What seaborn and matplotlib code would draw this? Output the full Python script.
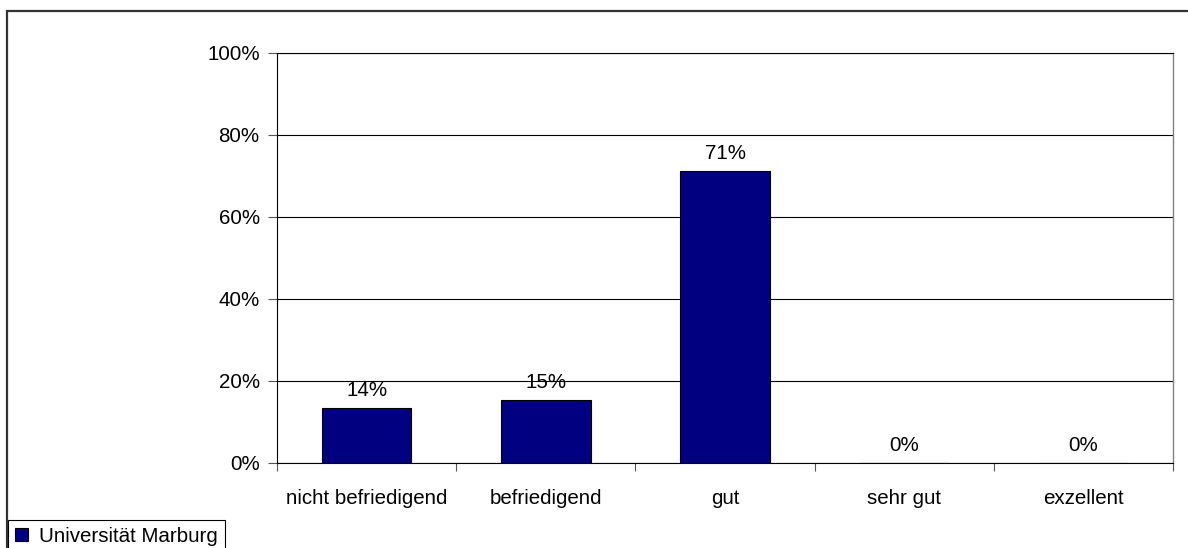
import numpy as np
import pandas as pd
import matplotlib.pyplot as plt
import seaborn as sns
from matplotlib.patches import Rectangle, Patch

# Werte
categories = ['nicht befriedigend', 'befriedigend', 'gut', 'sehr gut', 'exzellent']
values = [0.133, 0.154, 0.712, 0.0, 0.0]
value_labels = ['14%', '15%', '71%', '0%', '0%']
y_ticks = [0, 0.2, 0.4, 0.6, 0.8, 1.0]
y_tick_labels = ['0%', '20%', '40%', '60%', '80%', '100%']
series_name = 'Universität Marburg'

sns.set_style('white')
plt.rcParams['font.family'] = ['Liberation Sans', 'DejaVu Sans']
plt.rcParams['text.color'] = 'black'
plt.rcParams['xtick.color'] = 'black'
plt.rcParams['ytick.color'] = 'black'
fs = 14.8

df = pd.DataFrame({'Kategorie': categories, 'Anteil': values})

fig = plt.figure(figsize=(11.88, 5.48), dpi=100)
ax = fig.add_axes([277 / 1188, 1 - 463 / 548, 896 / 1188, 410 / 548])

sns.barplot(data=df, x='Kategorie', y='Anteil', color='#000080',
            edgecolor='black', linewidth=0.8, width=0.5, saturation=1, ax=ax)

ax.set_xlim(-0.5, len(categories) - 0.5)
ax.set_ylim(0, 1.0)
ax.set_yticks(y_ticks)
ax.set_yticklabels(y_tick_labels, fontsize=fs)
ax.yaxis.grid(True, color='black', linewidth=0.8)
ax.set_axisbelow(True)

ax.set_xticks(range(len(categories)))
ax.set_xticklabels(categories, fontsize=fs)
ax.set_xticks(np.arange(-0.5, len(categories)), minor=True)
ax.tick_params(axis='x', which='major', length=0, pad=19)
ax.tick_params(axis='x', which='minor', length=6, width=0.8, color='#555555', direction='out', bottom=True)
ax.tick_params(axis='y', length=6.5, width=0.8, color='#555555', direction='out', left=True, pad=6)
ax.set_xlabel('')
ax.set_ylabel('')

for side in ['left', 'bottom', 'top']:
    ax.spines[side].set_color('black')
    ax.spines[side].set_linewidth(0.8)
ax.spines['right'].set_color('#808080')
ax.spines['right'].set_linewidth(1.0)

ax.bar_label(ax.containers[0], labels=value_labels, padding=6, fontsize=fs, color='black')

# aeusserer Rahmen
fig.patches.append(Rectangle((7 / 1188, -0.1), 1.2, 1 - 11 / 548 + 0.1,
                             transform=fig.transFigure, fill=False,
                             edgecolor='#333333', linewidth=1.6))

handles = [Patch(facecolor='#000080', edgecolor='black', linewidth=0.8, label=series_name)]
leg = fig.legend(handles=handles, loc='upper left',
                 bbox_to_anchor=(8 / 1188, 1 - 520 / 548), fontsize=fs,
                 frameon=True, fancybox=False, framealpha=1,
                 handlelength=0.6, handleheight=0.6, handletextpad=0.55,
                 borderpad=0.35, borderaxespad=0)
leg.get_frame().set_edgecolor('black')
leg.get_frame().set_linewidth(0.8)

fig.savefig('out.png', dpi=100)
